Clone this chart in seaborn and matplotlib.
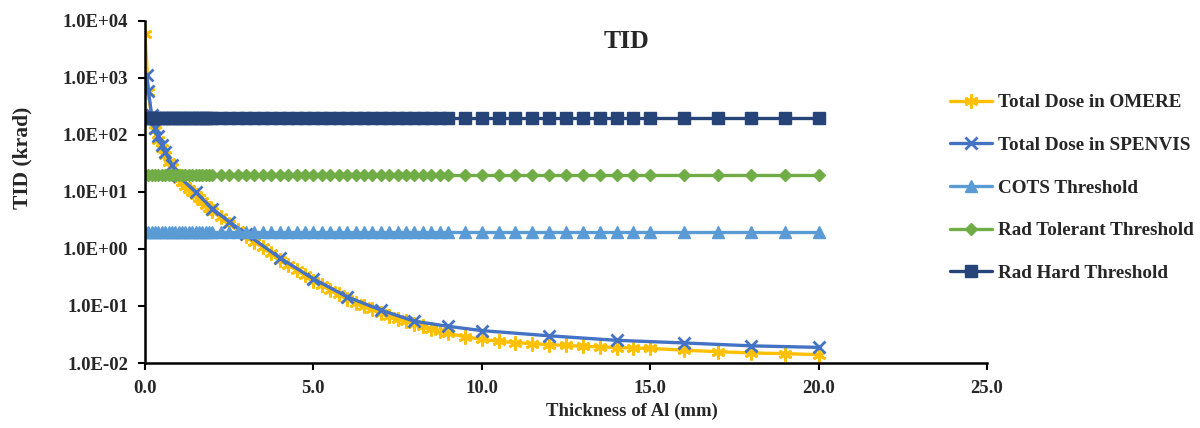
import numpy as np
import pandas as pd
import matplotlib
matplotlib.use('Agg')
import matplotlib.pyplot as plt
import seaborn as sns
from matplotlib.ticker import FixedLocator, FuncFormatter, NullLocator

# Thickness grid used for OMERE and the threshold lines (mm).
x_omere = [
    0.0, 0.1, 0.2, 0.3, 0.4, 0.5, 0.6, 0.7, 0.8, 0.9, 1.0,
    1.1, 1.2, 1.3, 1.4, 1.5, 1.6, 1.7, 1.8, 1.9, 2.0,
    2.25, 2.5, 2.75, 3.0, 3.25, 3.5, 3.75, 4.0, 4.25, 4.5, 4.75, 5.0,
    5.25, 5.5, 5.75, 6.0, 6.25, 6.5, 6.75, 7.0, 7.25, 7.5, 7.75, 8.0,
    8.25, 8.5, 8.75, 9.0,
    9.5, 10.0, 10.5, 11.0, 11.5, 12.0, 12.5, 13.0, 13.5, 14.0, 14.5, 15.0,
    16.0, 17.0, 18.0, 19.0, 20.0,
]
tid_omere = [
    5800, 560, 200, 120, 82, 60, 45, 34, 27, 21.5, 17.0,
    14.8, 13.0, 11.5, 10.2, 9.0, 7.9, 6.9, 6.0, 5.3, 4.6,
    3.6, 2.8, 2.15, 1.7, 1.35, 1.07, 0.85, 0.64, 0.52, 0.43, 0.35, 0.28,
    0.23, 0.19, 0.16, 0.133, 0.115, 0.100, 0.087, 0.076, 0.068, 0.060, 0.054, 0.048,
    0.044, 0.040, 0.036, 0.033,
    0.029, 0.026, 0.024, 0.0228, 0.0218, 0.021, 0.0203, 0.0197, 0.0192, 0.0187, 0.0183, 0.018,
    0.0168, 0.0158, 0.0150, 0.0146, 0.0140,
]

# SPENVIS (SHIELDOSE-2) default depth grid (mm).
x_spenvis = [
    0.05, 0.1, 0.2, 0.3, 0.4, 0.5, 0.6, 0.8, 1.0, 1.5, 2.0, 2.5, 3.0,
    4.0, 5.0, 6.0, 7.0, 8.0, 9.0, 10.0, 12.0, 14.0, 16.0, 18.0, 20.0,
]
tid_spenvis = [
    1150, 600, 220, 135, 95, 68, 50, 30, 19, 10, 5.1, 3.0, 1.85,
    0.70, 0.30, 0.145, 0.085, 0.054, 0.044, 0.037, 0.030, 0.025, 0.0225, 0.020, 0.0188,
]

# Threshold levels (krad).
cots_level = 2.0
rad_tolerant_level = 20.0
rad_hard_level = 200.0

y_ticks = [1e-2, 1e-1, 1e0, 1e1, 1e2, 1e3, 1e4]
x_ticks = [0, 5, 10, 15, 20, 25]

df_omere = pd.DataFrame({'x': x_omere, 'y': tid_omere})
df_spenvis = pd.DataFrame({'x': x_spenvis, 'y': tid_spenvis})
df_thr = pd.DataFrame({
    'x': x_omere,
    'cots': [cots_level] * len(x_omere),
    'tolerant': [rad_tolerant_level] * len(x_omere),
    'hard': [rad_hard_level] * len(x_omere),
})

sns.set_style('white')
plt.rcParams['font.family'] = ['Liberation Serif', 'DejaVu Serif']
plt.rcParams['font.weight'] = 'bold'

fig = plt.figure(figsize=(12, 4.28), dpi=100)
ax = fig.add_axes([145 / 1200, 1 - 363 / 428, (987 - 145) / 1200, (363 - 21) / 428])

# Series in the same order as the chart, so later ones sit on top.
series = [
    (df_omere, 'y', 'Total Dose in OMERE', '#FFC000', (6, 2, 0), 10, 2.0),
    (df_spenvis, 'y', 'Total Dose in SPENVIS', '#4472C4', 'x', 8.5, 2.0),
    (df_thr, 'cots', 'COTS Threshold', '#5B9BD5', '^', 8, 1.0),
    (df_thr, 'tolerant', 'Rad Tolerant Threshold', '#70AD47', 'D', 6.5, 1.0),
    (df_thr, 'hard', 'Rad Hard Threshold', '#264478', 's', 8, 1.0),
]
for data, col, label, color, marker, ms, mew in series:
    sns.lineplot(
        data=data, x='x', y=col, ax=ax,
        color=color, linewidth=2.4, marker=marker, markersize=ms,
        markeredgewidth=mew, markeredgecolor=color, markerfacecolor=color,
        label=label, sort=False, errorbar=None,
    )

ax.set_yscale('log')
ax.set_ylim(1e-2, 1e4)
ax.set_xlim(0, 25)
ax.yaxis.set_major_locator(FixedLocator(y_ticks))
ax.yaxis.set_minor_locator(NullLocator())
ax.yaxis.set_major_formatter(FuncFormatter(lambda v, p: f'{v:.1E}'))
ax.xaxis.set_major_locator(FixedLocator(x_ticks))
ax.xaxis.set_major_formatter(FuncFormatter(lambda v, p: f'{v:.1f}'))

for side in ['top', 'right']:
    ax.spines[side].set_visible(False)
for side in ['left', 'bottom']:
    ax.spines[side].set_color('black')
    ax.spines[side].set_linewidth(1.8)
ax.tick_params(axis='both', which='major', direction='out', length=5, width=1.5,
               color='black', labelsize=13.5, pad=7, left=True, bottom=True)
for lab in ax.get_xticklabels() + ax.get_yticklabels():
    lab.set_fontweight('bold')

ax.set_xlabel('')
ax.set_ylabel('')
fig.text(632 / 1200, 1 - 411 / 428, 'Thickness of Al (mm)', ha='center', va='center',
         fontsize=13.5, fontweight='bold')
fig.text(22 / 1200, 1 - 158 / 428, 'TID (krad)', ha='center', va='center',
         rotation=90, fontsize=15.5, fontweight='bold')
fig.text(627 / 1200, 1 - 42 / 428, 'TID', ha='center', va='center',
         fontsize=18.5, fontweight='bold')

handles, labels = ax.get_legend_handles_labels()
if ax.get_legend() is not None:
    ax.get_legend().remove()
fig.legend(handles, labels, loc='center left', bbox_to_anchor=(950 / 1200, 1 - 188 / 428),
           frameon=False, labelspacing=1.32, handlelength=2.2,
           handletextpad=0.3, borderpad=0, borderaxespad=0,
           prop={'weight': 'bold', 'size': 13.8})

fig.savefig('out.png', dpi=100)
